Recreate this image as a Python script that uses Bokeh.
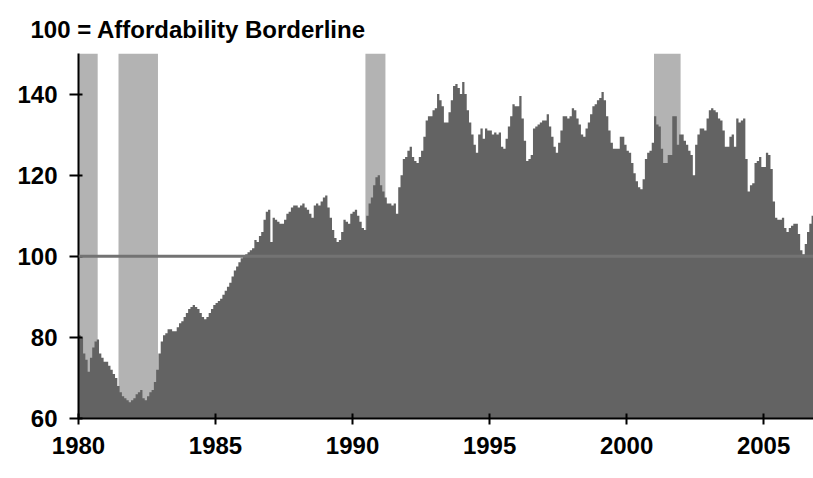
import numpy as np
from bokeh.plotting import figure
from bokeh.models import FixedTicker, Span, Title
from bokeh.embed import file_html
from bokeh.resources import INLINE

# Housing affordability index, monthly values by year (100 = affordability borderline)
y1980 = [80.5, 80, 76, 74.5, 71.5, 75, 77.5, 79, 79.5, 76, 75, 74]
y1981 = [74, 73, 72, 71, 70, 68, 66.5, 65.5, 65, 64.5, 64, 64.5]
y1982 = [65, 66, 66.5, 67, 65, 64.5, 65.5, 66.5, 67, 69, 72, 76]
y1983 = [79, 80.5, 81, 82, 82, 81.5, 81.5, 82.5, 83.5, 84, 85, 86]
y1984 = [87, 87.5, 88, 87.5, 87, 86, 85, 84.5, 85, 86, 87, 88]
y1985 = [88.5, 89, 89.5, 90.5, 91.5, 92.5, 93.5, 95, 96.5, 97.5, 98.5, 99.5]
y1986 = [100, 100.5, 101, 101.5, 102, 104, 103.5, 105, 106, 109, 111, 111.5]
y1987 = [103.5, 109.5, 109, 108.5, 108, 108, 109, 110.5, 111, 112, 112.5, 112.5]
y1988 = [112, 112.5, 113, 112, 111.5, 110.5, 109.5, 112.5, 113, 112.5, 113.5, 114.5]
y1989 = [115, 112, 109.5, 106.5, 104.5, 103.5, 104, 106, 109, 108.5, 108, 110.5]
y1990 = [111, 111.5, 110, 108.5, 107, 106.5, 110, 113, 114.5, 117.5, 119.5, 120]
y1991 = [117.5, 116, 114.5, 113, 113, 112.5, 113, 110.5, 117, 120, 124, 124.5]
y1992 = [126, 127, 124.5, 123.5, 123, 124.5, 126, 129.5, 133.5, 134.5, 134.5, 136]
y1993 = [136.5, 140, 138.5, 137, 133, 133, 135.5, 138.5, 142, 142.5, 141.5, 140]
y1994 = [143, 140, 136, 133, 130, 127.5, 125.5, 130, 131.5, 129, 131.5, 131]
y1995 = [131, 130, 130.5, 130, 130.5, 127, 126.5, 129, 132, 134.5, 137.5, 137]
y1996 = [137, 139.5, 134, 128.5, 123.5, 124, 125, 131.5, 132, 132.5, 133, 133.5]
y1997 = [133.5, 135, 132, 129.5, 127, 125.5, 128, 131, 134.5, 134.5, 134, 134.5]
y1998 = [136.5, 136, 134, 132.5, 130, 129.5, 131.5, 133, 135, 137, 137.5, 138.5]
y1999 = [139, 140.5, 138.5, 134.5, 131, 128, 126.5, 126.5, 126.5, 129.5, 129.5, 127.5]
y2000 = [126, 125.5, 123, 120.5, 118.5, 117, 116.5, 119, 124, 125.5, 126, 128]
y2001 = [134.5, 132.5, 132, 126.5, 123, 123, 125, 125, 134.5, 134.5, 127.5, 130]
y2002 = [130, 128.5, 127.5, 126, 125, 120, 127.5, 130, 131.5, 131.5, 131, 134]
y2003 = [136, 136.5, 136, 135.5, 134, 133.5, 131, 127, 127, 129.5, 130, 127]
y2004 = [134, 133, 133.5, 134, 124, 116, 117.5, 118, 123, 123.5, 124.5, 122]
y2005 = [122, 125.5, 125, 121.5, 113.5, 109.5, 109, 109, 109.5, 107, 106, 107]
y2006 = [107.5, 108, 108, 105.5, 101.5, 100.5, 103, 106, 108, 110]

# Recessions (fractional years)
rec_start = [1980.0, 1981.46, 1990.47, 2001.0]
rec_end = [1980.7, 1982.9, 1991.2, 2001.97]

x_ticks = [1980, 1985, 1990, 1995, 2000, 2005]
y_ticks = [60, 80, 100, 120, 140]

series = (y1980 + y1981 + y1982 + y1983 + y1984 + y1985 + y1986 + y1987 + y1988
          + y1989 + y1990 + y1991 + y1992 + y1993 + y1994 + y1995 + y1996 + y1997
          + y1998 + y1999 + y2000 + y2001 + y2002 + y2003 + y2004 + y2005 + y2006)
t = 1980 + np.arange(len(series)) / 12.0
t = list(t) + [t[-1] + 1 / 12.0]
vals = series + [series[-1]]

FONT = "Liberation Sans"

p = figure(width=813, height=478, x_range=(1980, 2006.82), y_range=(60, 150),
           output_backend="svg", toolbar_location=None,
           min_border_left=78, min_border_right=0, min_border_top=53, min_border_bottom=60)
p.outline_line_color = None
p.xgrid.visible = False
p.ygrid.visible = False
p.background_fill_color = "white"
p.border_fill_color = "white"

p.quad(left=rec_start, right=rec_end, bottom=60, top=150,
       fill_color="#b3b3b3", line_color=None)
p.varea_step(x=t, y1=[60] * len(vals), y2=vals, step_mode="after", fill_color="#636363")

p.add_layout(Span(location=100, dimension="width", line_color="#737373", line_width=3))

title = Title(text="100 = Affordability Borderline", align="left", offset=-48,
              text_font=FONT, text_font_size="24px", text_font_style="bold",
              text_color="black", standoff=22)
p.add_layout(title, "above")

for ax in (p.xaxis[0], p.yaxis[0]):
    ax.axis_line_color = "black"
    ax.axis_line_width = 2
    ax.major_tick_line_color = "black"
    ax.major_tick_line_width = 2
    ax.minor_tick_line_color = None
    ax.major_label_text_font = FONT
    ax.major_label_text_font_style = "bold"
    ax.major_label_text_font_size = "24px"
    ax.major_label_text_color = "black"

p.xaxis[0].ticker = FixedTicker(ticks=x_ticks)
p.yaxis[0].ticker = FixedTicker(ticks=y_ticks)
p.xaxis[0].major_tick_in = 5
p.xaxis[0].major_tick_out = 6
p.xaxis[0].major_label_standoff = 12
p.yaxis[0].major_tick_in = 4
p.yaxis[0].major_tick_out = 9
p.yaxis[0].major_label_standoff = 12

open("out.html", "w").write(file_html(p, INLINE))
